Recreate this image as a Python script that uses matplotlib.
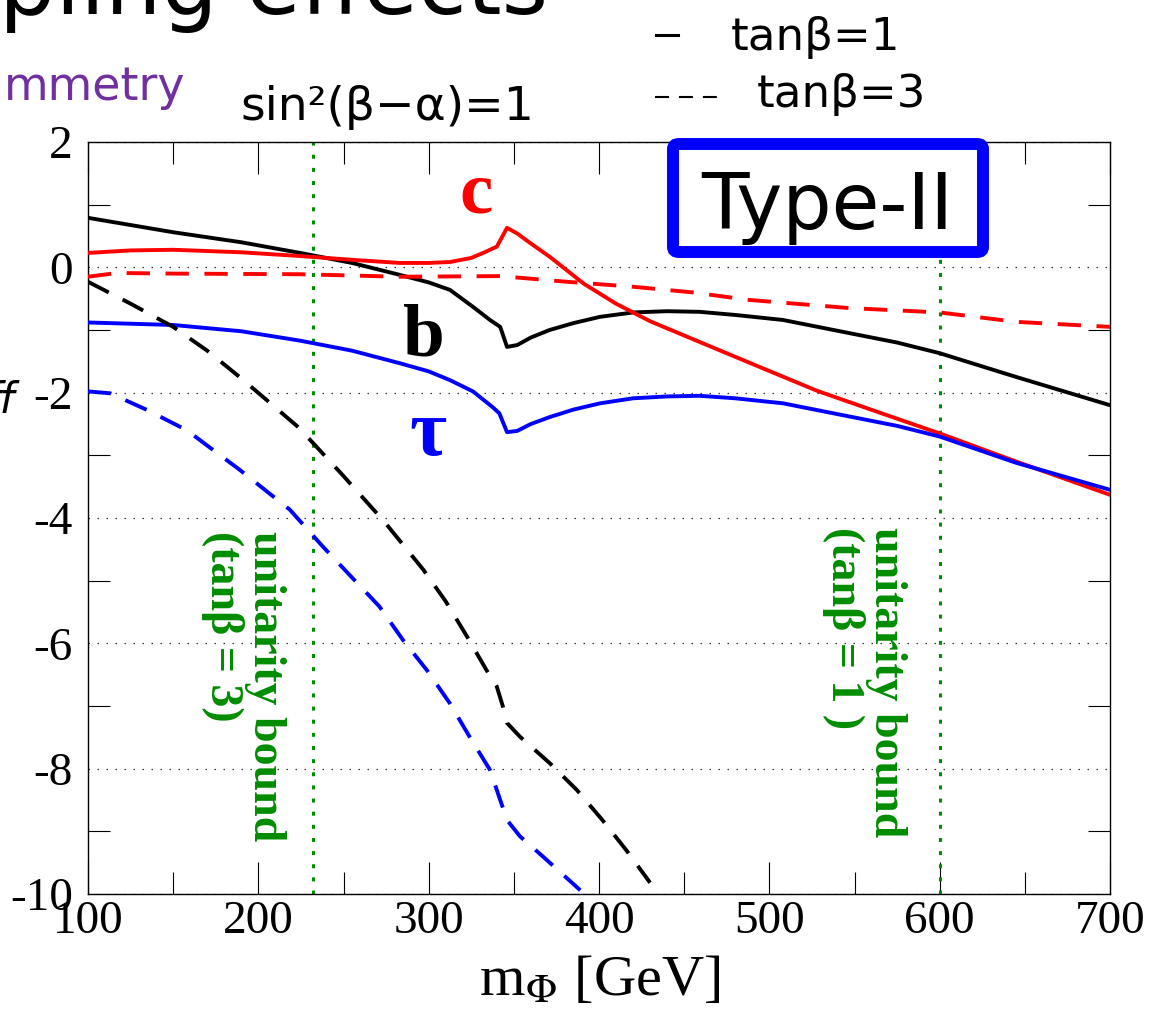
import numpy as np
import matplotlib
matplotlib.use("Agg")
import matplotlib.pyplot as plt
from matplotlib.lines import Line2D
from matplotlib.patches import FancyBboxPatch
from matplotlib.ticker import MultipleLocator

plt.rcParams.update({
    "font.family": "Liberation Serif", "mathtext.fontset": "stix",
    "axes.unicode_minus": False,
})

W, H = 1153, 1022

# ---- tanβ = 1 (solid) ----
b1_x = [100, 150, 190, 224.5, 255, 283, 300, 312.5, 326, 336, 342, 346, 352, 360, 371, 385, 400.6, 420,
        440, 459, 480, 508, 547, 575, 600, 645, 700]
b1_y = [0.79, 0.56, 0.40, 0.23, 0.07, -0.12, -0.24, -0.36, -0.63, -0.84, -0.95, -1.27, -1.24, -1.12, -1.0,
        -0.89, -0.79, -0.72, -0.70, -0.71, -0.76, -0.84, -1.05, -1.20, -1.37, -1.75, -2.20]
c1_x = [100, 125, 150, 190, 224.5, 255, 283, 300, 312.5, 325, 332, 340, 346, 352, 360, 371, 391, 410, 430,
        459, 489, 528, 567, 600, 645, 700]
c1_y = [0.23, 0.27, 0.28, 0.24, 0.18, 0.12, 0.07, 0.07, 0.085, 0.15, 0.23, 0.33, 0.63, 0.54, 0.38, 0.17,
        -0.26, -0.58, -0.86, -1.19, -1.53, -1.97, -2.34, -2.65, -3.10, -3.63]
t1_x = [100, 150, 190, 224.5, 255, 283, 300, 312.5, 326, 337.5, 341.5, 346, 352, 360, 371, 385, 400.6, 420,
        440, 459, 480, 508, 547, 575, 600, 645, 700]
t1_y = [-0.88, -0.92, -1.02, -1.17, -1.33, -1.53, -1.66, -1.80, -1.98, -2.23, -2.33, -2.63, -2.61, -2.50,
        -2.39, -2.27, -2.17, -2.09, -2.06, -2.05, -2.09, -2.17, -2.38, -2.53, -2.70, -3.12, -3.55]

# ---- tanβ = 3 (dashed) ----
b3_x = [100, 125, 150, 170, 189, 205, 223, 232, 250, 274, 297, 310, 322.5, 334, 340, 343.6, 346, 353.6,
        371, 387, 402, 416, 430]
b3_y = [-0.23, -0.58, -0.95, -1.33, -1.75, -2.12, -2.54, -2.80, -3.33, -4.06, -4.83, -5.33, -5.89, -6.43,
        -6.69, -7.01, -7.27, -7.49, -7.91, -8.34, -8.82, -9.30, -9.82]
c3_x = [100, 117, 150, 224.5, 283, 342, 381, 420, 455, 488, 547, 600, 645, 700]
c3_y = [-0.15, -0.09, -0.10, -0.11, -0.15, -0.14, -0.23, -0.31, -0.40, -0.52, -0.65, -0.72, -0.87, -0.95]
t3_x = [100, 113, 135, 158, 189, 218.6, 238, 255, 271, 285, 299, 312.5, 324, 336, 342, 346, 353.6, 367, 389]
t3_y = [-1.98, -2.01, -2.28, -2.60, -3.23, -3.87, -4.46, -4.95, -5.41, -5.95, -6.43, -6.96, -7.49, -8.02,
        -8.50, -8.82, -9.08, -9.40, -9.94]

unitarity_x = [232, 600]
unitarity_lbl = ["unitarity bound\n(tanβ = 3)", "unitarity bound\n(tanβ = 1 )"]
unitarity_pos = [(191, -4.2), (556, -4.15)]


def fx(px): return px / W
def fy(py): return 1 - py / H


fig = plt.figure(figsize=(W / 100, H / 100), dpi=100)
ax = fig.add_axes([fx(88), fy(894), (1110 - 88) / W, (894 - 142) / H])

dash = (0, (6, 4))
for x, y, col in [(b1_x, b1_y, "black"), (c1_x, c1_y, "#FF0000"), (t1_x, t1_y, "#0000FF")]:
    ax.plot(x, y, color=col, lw=2.8, zorder=3, solid_joinstyle="round")
for x, y, col in [(b3_x, b3_y, "black"), (c3_x, c3_y, "#FF0000"), (t3_x, t3_y, "#0000FF")]:
    ax.plot(x, y, color=col, lw=2.8, ls=dash, zorder=3)

green = "#008C00"
for xv, lbl, (tx, ty) in zip(unitarity_x, unitarity_lbl, unitarity_pos):
    ax.axvline(xv, color=green, lw=2.2, ls=(0, (1.3, 3)), zorder=2)
    ax.text(tx, ty, lbl, rotation=-90, ha="center", va="top", multialignment="left",
            color=green, fontsize=33, fontweight="bold", linespacing=1.0)

ax.text(327.8, 0.87, "c", color="#FF0000", fontsize=54, fontweight="bold", ha="center", va="baseline")
ax.text(297.3, -1.40, "b", color="black", fontsize=54, fontweight="bold", ha="center", va="baseline")
ax.text(299.6, -2.99, "τ", color="#0000FF", fontsize=58, fontweight="bold", ha="center", va="baseline")

ax.set_xlim(100, 700); ax.set_ylim(-10, 2)
ax.xaxis.set_major_locator(MultipleLocator(100)); ax.xaxis.set_minor_locator(MultipleLocator(50))
ax.yaxis.set_major_locator(MultipleLocator(2)); ax.yaxis.set_minor_locator(MultipleLocator(1))
ax.tick_params(axis="x", which="major", direction="in", length=23, width=0.8, top=True, labelsize=34, pad=5)
ax.tick_params(axis="x", which="minor", direction="in", length=15.8, width=0.8, top=True)
ax.tick_params(axis="y", which="major", length=0, labelsize=34, pad=11)
ax.tick_params(axis="y", which="minor", direction="in", length=15.8, width=0.8, right=True)
ax.grid(axis="y", which="major", color="#333333", lw=0.9, ls=(0, (1.2, 6)), zorder=1)
for s in ax.spines.values():
    s.set_linewidth(1.0)

fig.text(fx(600), fy(995), r"m$_{\Phi}$ [GeV]", fontsize=42, ha="center", va="baseline")

# Type-II box
box = FancyBboxPatch((fx(673), fy(252)), (983 - 673) / W, (252 - 144) / H,
                     boxstyle="round,pad=0,rounding_size=0.005", transform=fig.transFigure,
                     fc="white", ec="#0000FF", lw=8.6, zorder=10)
fig.add_artist(box)
fig.text(fx(827), fy(229), "Type-II", family="DejaVu Sans", fontsize=56, ha="center", va="baseline", zorder=11)

# slide texts around the plot
fig.text(fx(548), fy(14), "pling effects", family="DejaVu Sans", fontsize=64, ha="right", va="baseline")
fig.text(fx(185), fy(100), "mmetry", family="DejaVu Sans", fontsize=33, color="#7030A0", ha="right", va="baseline")
fig.text(fx(240), fy(120), "sin²(β−α)=1", family="DejaVu Sans", fontsize=34, ha="left", va="baseline")
fig.text(fx(731), fy(50), "tanβ=1", family="DejaVu Sans", fontsize=32.5, ha="left", va="baseline")
fig.text(fx(757), fy(107), "tanβ=3", family="DejaVu Sans", fontsize=32.5, ha="left", va="baseline")
fig.text(fx(14), fy(413), "ff", family="DejaVu Sans", style="italic", fontsize=30, ha="right", va="baseline")
fig.add_artist(Line2D([fx(656), fx(678)], [fy(35), fy(35)], transform=fig.transFigure, color="black", lw=2.2))
fig.add_artist(Line2D([fx(655), fx(717)], [fy(97), fy(97)], transform=fig.transFigure, color="black",
                      lw=1.5, ls=(0, (6.7, 4.8)), dash_capstyle="butt"))

fig.savefig("out.png", dpi=100)
